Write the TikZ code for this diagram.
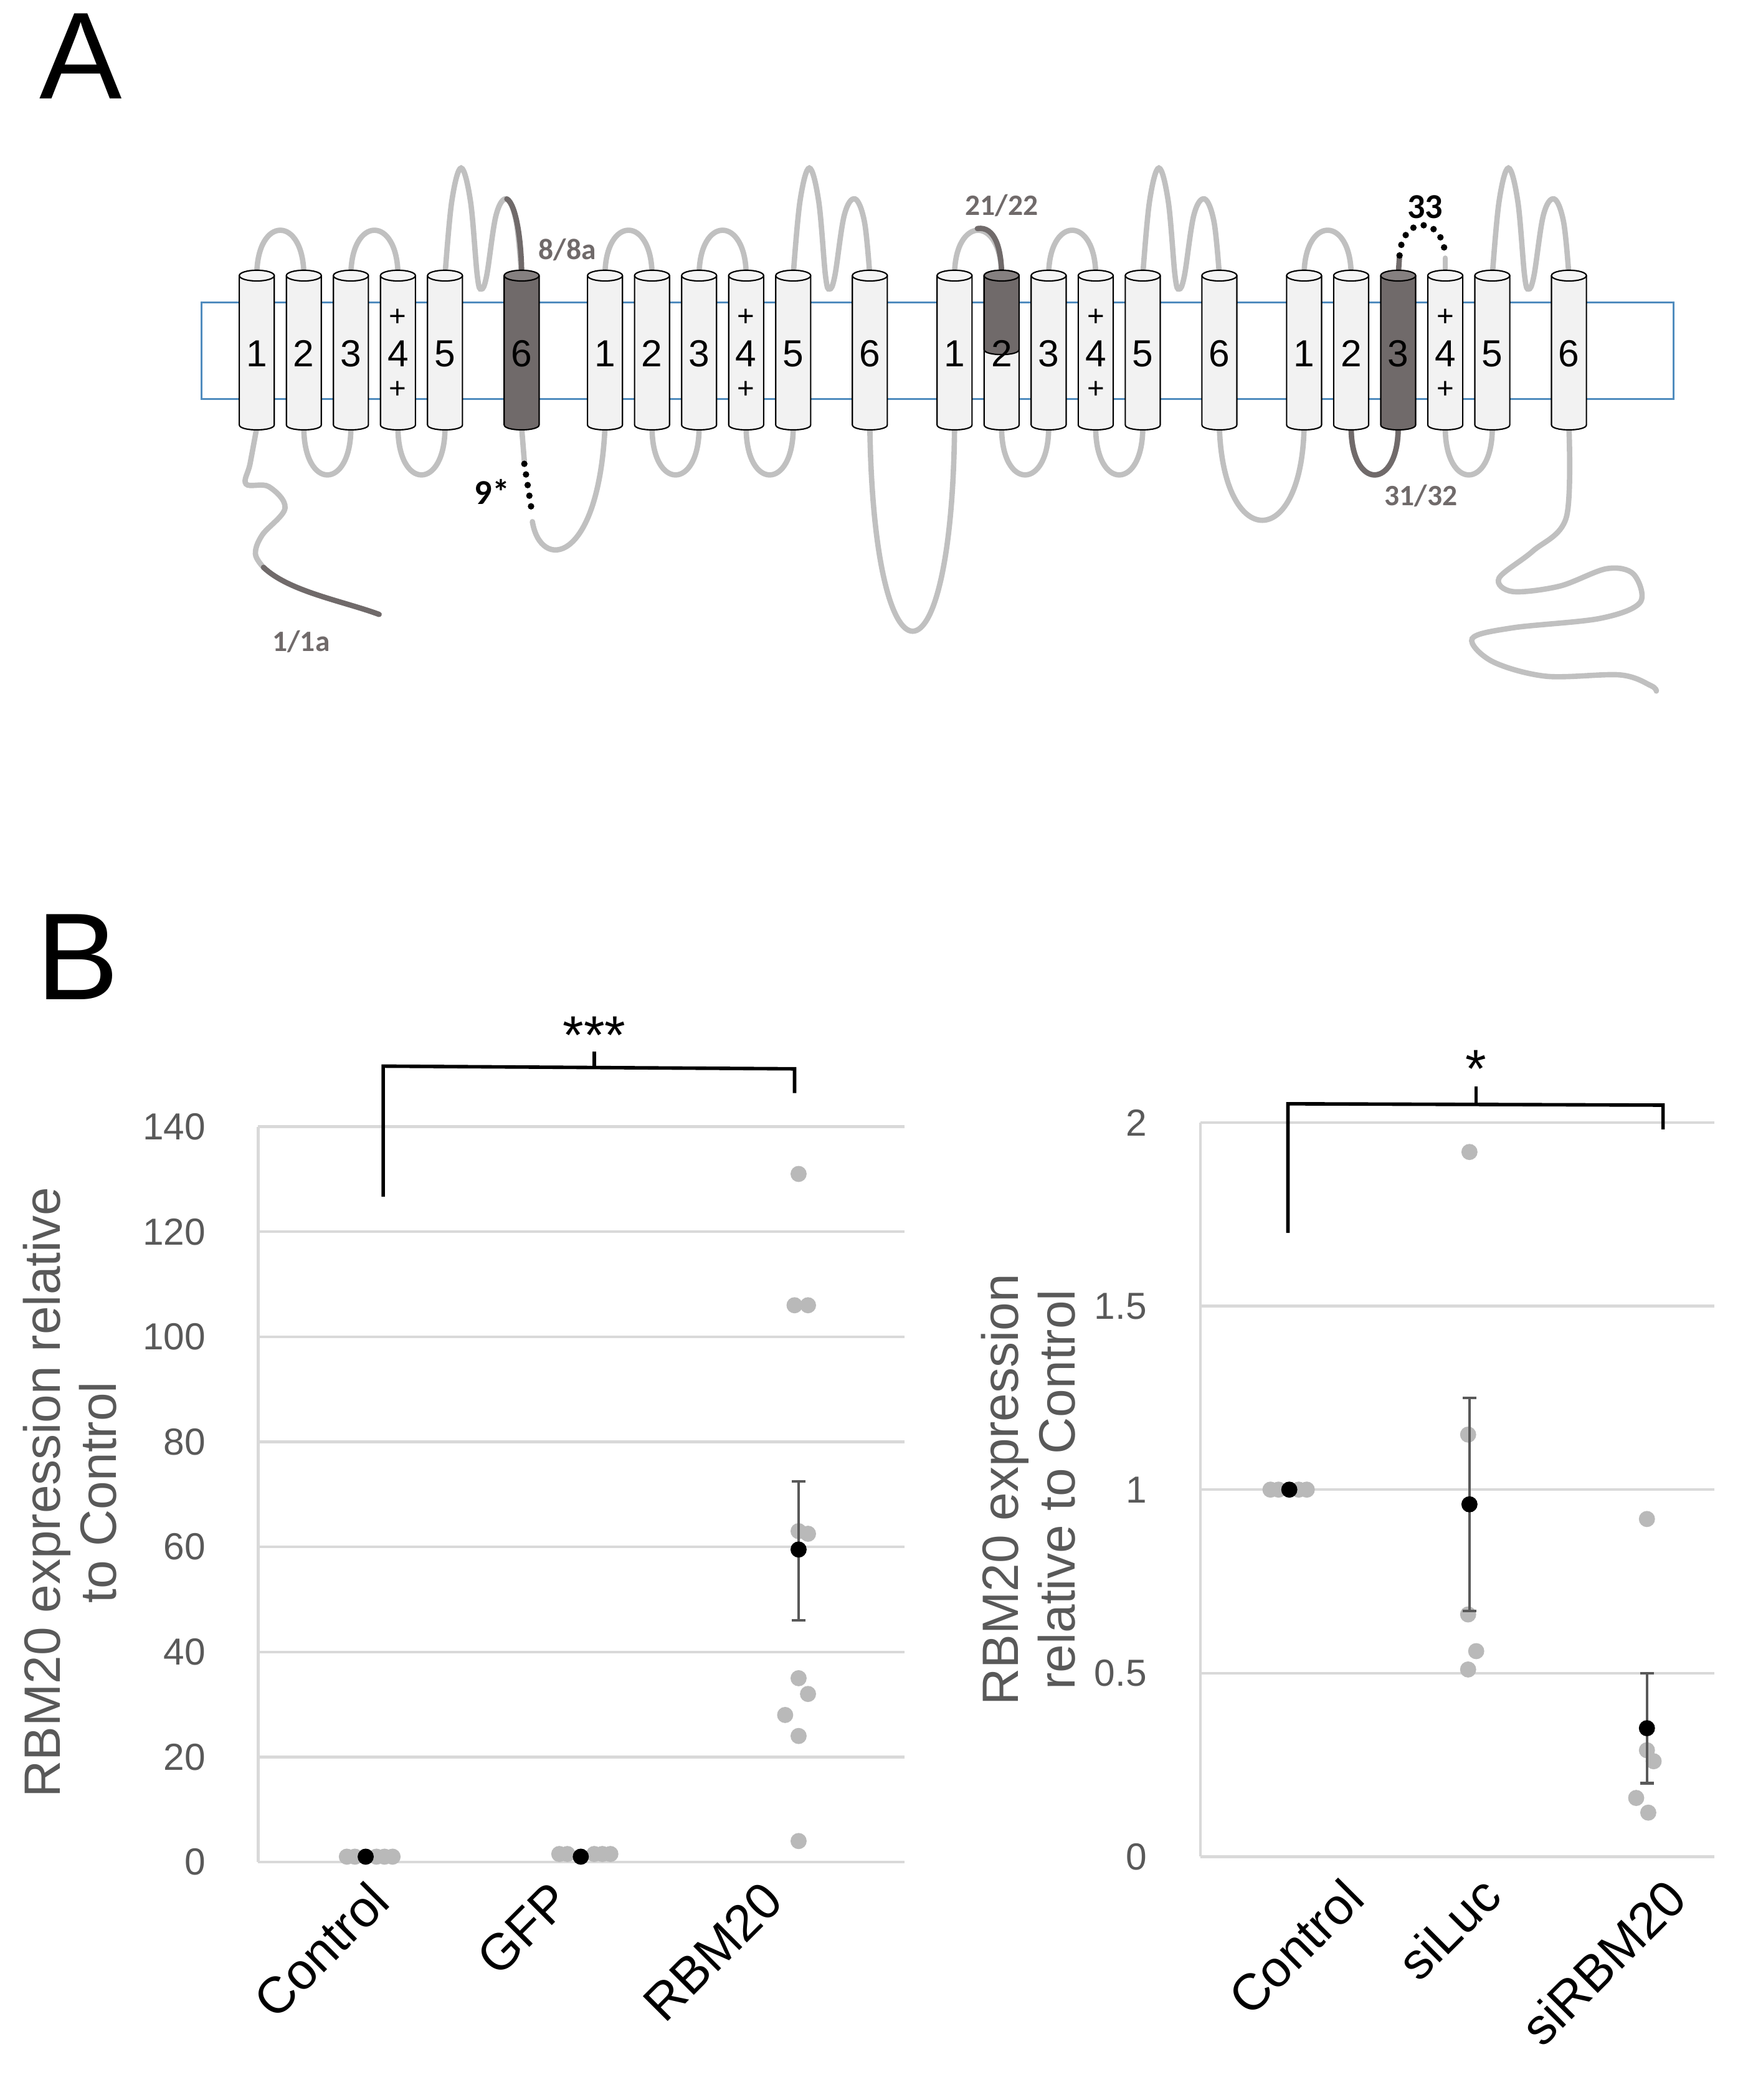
\documentclass[tikz,border=0pt]{standalone}
\usepackage{fontspec}
\setmainfont{Liberation Sans}
\newfontfamily\carl{Carlito}
\begin{document}
\definecolor{loop}{RGB}{192,192,192}
\definecolor{dk}{RGB}{112,106,106}
\definecolor{mem}{RGB}{80,140,190}
\definecolor{cyl}{RGB}{242,242,242}
\definecolor{grid}{RGB}{217,217,217}
\definecolor{axt}{RGB}{89,89,89}
\definecolor{pt}{RGB}{185,185,185}
\begin{tikzpicture}[x=0.5pt,y=-0.5pt,
  lp/.style={draw=loop,line width=2pt,line cap=round},
  dl/.style={draw=dk,line width=2pt,line cap=round},
  dotl/.style={draw=black,line width=2.4pt,dash pattern=on 0pt off 4pt,line cap=round},
  num/.style={font=\fontsize{14}{14}\selectfont},
  plus/.style={font=\fontsize{11}{11}\selectfont},
  exl/.style={font=\carl\bfseries\fontsize{11}{11}\selectfont,text=dk},
  tick/.style={font=\fontsize{14}{14}\selectfont,text=axt,anchor=east},
  cat/.style={font=\fontsize{19}{19}\selectfont,rotate=45,anchor=east},
  ttl/.style={font=\fontsize{19}{21}\selectfont,text=axt,rotate=90,align=center},
  eb/.style={draw=axt,line width=1pt},
  br/.style={draw=black,line width=1.3pt}]
\useasboundingbox (0,0) rectangle (1300,1562);
\node[font=\fontsize{46}{46}\selectfont] (A) at (60,42) {A};
\node[font=\fontsize{46}{46}\selectfont] (B) at (58,712) {B};
% membrane
\draw[mem,line width=0.7pt] (150,225) rectangle (1245,297);
% common loops
\foreach \o in {0,259,519,779}{
  \draw[lp] (191+\o,205) .. controls (191+\o,160) and (226+\o,160) .. (226+\o,205);
  \draw[lp] (226+\o,318) .. controls (226+\o,365) and (261+\o,365) .. (261+\o,318);
  \draw[lp] (296+\o,318) .. controls (296+\o,365) and (331+\o,365) .. (331+\o,318);
  \draw[lp] plot[smooth,tension=0.6] coordinates {(331+\o,205) (336+\o,150) (343+\o,125) (350+\o,150) (355+\o,205) (358+\o,215) (362+\o,205) (369+\o,160) (377+\o,148) (384+\o,165) (388+\o,205)};
}
\foreach \o in {0,259,519}{
  \draw[lp] (261+\o,205) .. controls (261+\o,160) and (296+\o,160) .. (296+\o,205);
}
% special segments
\draw[dl] (377,148) .. controls (384,152) and (388,180) .. (388,205);
\draw[dl] (727,170) .. controls (740,168) and (745,185) .. (745,205);
\draw[dl] (1005,318) .. controls (1005,365) and (1040,365) .. (1040,318);
\draw[dl] (1040,205) -- (1041,190);
\draw[dotl] (1041,190) .. controls (1043,160) and (1073,160) .. (1075,190);
\draw[lp] (1075,192) -- (1075,205);
% inter-domain
\draw[lp] (388,318) -- (390,343);
\draw[dotl] (390,345) -- (396,383);
\draw[lp] (396,388) .. controls (402,425) and (445,420) .. (450,318);
\draw[lp] (647,318) .. controls (650,520) and (708,520) .. (710,318);
\draw[lp] (907,318) .. controls (910,410) and (968,410) .. (970,318);
% N-term
\draw[lp] plot[smooth,tension=0.6] coordinates {(191,318) (186,345) (183,360) (200,362) (212,378) (195,398) (190,412) (196,422)};
\draw[dl] (196,422) .. controls (215,440) and (255,447) .. (282,457);
% C-term
\draw[lp] plot[smooth,tension=0.55] coordinates {(1167,318) (1165,385) (1140,410) (1115,430) (1125,440) (1160,436) (1195,423) (1215,427) (1220,448) (1190,460) (1125,467) (1095,475) (1110,492) (1150,503) (1205,502) (1228,510) (1232,514)};
% cylinders
\foreach \x/\f in {191/cyl,226/cyl,261/cyl,296/cyl,331/cyl,388/dk,450/cyl,485/cyl,520/cyl,555/cyl,590/cyl,647/cyl,710/cyl,745/cyl,780/cyl,815/cyl,850/cyl,907/cyl,970/cyl,1005/cyl,1040/dk,1075/cyl,1110/cyl,1167/cyl}{
  \fill[\f] (\x-13,205) -- (\x-13,316) .. controls (\x-13,321) and (\x+13,321) .. (\x+13,316) -- (\x+13,205) -- cycle;
  \draw[line width=0.5pt] (\x-13,205) -- (\x-13,316) .. controls (\x-13,321) and (\x+13,321) .. (\x+13,316) -- (\x+13,205);
  \draw[line width=0.5pt,fill=\f!85!white] (\x,205) ellipse [x radius=13,y radius=4];
}
\fill[dk] (732,205) -- (732,260) .. controls (732,265) and (758,265) .. (758,260) -- (758,205) -- cycle;
\draw[line width=0.5pt] (732,205) -- (732,260) .. controls (732,265) and (758,265) .. (758,260) -- (758,205);
\draw[line width=0.5pt,fill=dk!85!white] (745,205) ellipse [x radius=13,y radius=4];
% numbers
\foreach \o in {0,259,519,779}{
  \node[num] (n1\o) at (191+\o,263) {1};
  \node[num] (n2\o) at (226+\o,263) {2};
  \node[num] (n3\o) at (261+\o,263) {3};
  \node[num] (n4\o) at (296+\o,263) {4};
  \node[num] (n5\o) at (331+\o,263) {5};
  \node[num] (n6\o) at (388+\o,263) {6};
  \node[plus] (p1\o) at (296+\o,236) {+};
  \node[plus] (p2\o) at (296+\o,290) {+};
}
\node[exl] (l8) at (422,186) {8/8a};
\node[exl] (l21) at (745,153) {21/22};
\node[font=\carl\bfseries\fontsize{13}{13}\selectfont] (l33) at (1060,154) {33};
\node[exl] (l31) at (1057,369) {31/32};
\node[font=\carl\bfseries\fontsize{13}{13}\selectfont] (l9) at (366,366) {9*};
\node[exl] (l1) at (224,477) {1/1a};
% ===== left chart
\foreach \v in {0,20,...,140}{
  \draw[grid,line width=1pt] (192,{1385-\v*3.907}) -- (673,{1385-\v*3.907});
  \node[tick] (tl\v) at (160,{1385-\v*3.907}) {\v};
}
\draw[grid,line width=1pt] (192,838) -- (192,1385);
\node[ttl] (ytl) at (52,1110) {RBM20 expression relative\\to Control};
\node[cat] (c1) at (287,1402) {Control};
\node[cat] (c2) at (422,1402) {GFP};
\node[cat] (c3) at (580,1402) {RBM20};
\foreach \x in {258,264,280,286,292}{\fill[pt] (\x,1381) circle (3pt);}
\foreach \x in {416,422,442,448,454}{\fill[pt] (\x,1379) circle (3pt);}
\fill[black] (272,1381) circle (3pt);
\fill[black] (432,1381) circle (3pt);
\foreach \x/\v in {594/131,591/106,601/106,594/63,601/62.5,594/35,601/32,584/28,594/24,594/4}{\fill[pt] (\x,{1385-\v*3.907}) circle (3pt);}
\draw[eb] (594,{1385-46*3.907}) -- (594,{1385-72.5*3.907});
\draw[eb] (589,{1385-46*3.907}) -- (599,{1385-46*3.907});
\draw[eb] (589,{1385-72.5*3.907}) -- (599,{1385-72.5*3.907});
\fill[black] (594,{1385-59.5*3.907}) circle (3pt);
\draw[br] (285,890) -- (285,793) -- (591,795) -- (591,813);
\draw[br] (442,794) -- (442,782);
\node[font=\fontsize{20}{20}\selectfont] (s3) at (442,770) {***};
% ===== right chart
\foreach \v/\t in {0/0,0.5/0.5,1/1,1.5/1.5,2/2}{
  \draw[grid,line width=1pt] (893,{1381-\v*273}) -- (1275,{1381-\v*273});
  \node[tick] (tr\t) at (860,{1381-\v*273}) {\t};
}
\draw[grid,line width=1pt] (893,835) -- (893,1381);
\node[ttl] (ytr) at (765,1108) {RBM20 expression\\relative to Control};
\node[cat] (d1) at (1012,1400) {Control};
\node[cat] (d2) at (1114,1398) {siLuc};
\node[cat] (d3) at (1252,1400) {siRBM20};
\foreach \x in {945,951,966,972}{\fill[pt] (\x,{1381-1*273}) circle (3pt);}
\fill[black] (959,{1381-1*273}) circle (3pt);
\foreach \x/\v in {1093/1.92,1092/1.15,1092/0.66,1098/0.56,1092/0.51,1225/0.92,1225/0.29,1230/0.26,1217/0.16,1226/0.12}{\fill[pt] (\x,{1381-\v*273}) circle (3pt);}
\draw[eb] (1093,{1381-0.67*273}) -- (1093,{1381-1.25*273});
\draw[eb] (1088,{1381-0.67*273}) -- (1098,{1381-0.67*273});
\draw[eb] (1088,{1381-1.25*273}) -- (1098,{1381-1.25*273});
\fill[black] (1093,{1381-0.96*273}) circle (3pt);
\draw[eb] (1225,{1381-0.2*273}) -- (1225,{1381-0.5*273});
\draw[eb] (1220,{1381-0.2*273}) -- (1230,{1381-0.2*273});
\draw[eb] (1220,{1381-0.5*273}) -- (1230,{1381-0.5*273});
\fill[black] (1225,{1381-0.35*273}) circle (3pt);
\draw[br] (958,917) -- (958,821) -- (1237,822) -- (1237,840);
\draw[br] (1098,822) -- (1098,808);
\node[font=\fontsize{20}{20}\selectfont] (s1) at (1098,795) {*};
\end{tikzpicture}
\end{document}
